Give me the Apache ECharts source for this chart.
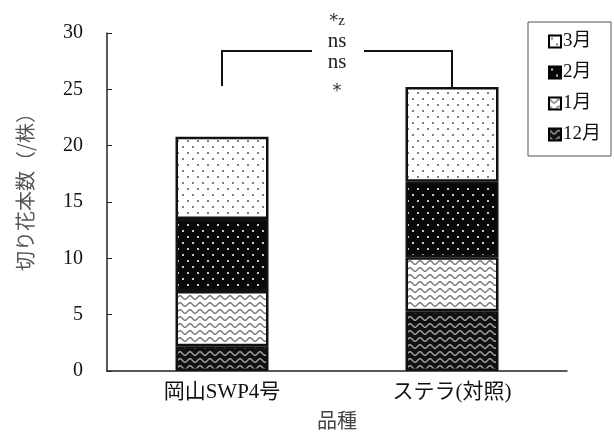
<!DOCTYPE html>
<html>
<head>
<meta charset="utf-8">
<script src="https://cdn.jsdelivr.net/npm/echarts@6/dist/echarts.min.js"></script>
<style>
  html, body { margin: 0; padding: 0; background: #fff; }
  #chart { width: 614px; height: 435px; }
</style>
</head>
<body>
<div id="chart"></div>
<script>
// Cut flowers per plant, by month, for two cultivars
const categories = ['岡山SWP4号', 'ステラ(対照)'];
const months = ['12月', '1月', '2月', '3月'];
const dec = [2.2, 5.3];
const jan = [4.9, 4.8];
const feb = [6.4, 6.7];
const mar = [7.3, 8.4];
const yTicks = { min: 0, max: 30, interval: 5 };
const sigMarks = ['{s|*}{t|z}', '{t|ns}', '{t|ns}', '{s|*}'];

const serif = '"Liberation Serif", "Noto Sans CJK JP", serif';
const sans = '"Noto Sans CJK JP", sans-serif';

// Tiled fills for the stacked segments
function wavePattern(bg, fg) {
  const c = document.createElement('canvas');
  c.width = 10; c.height = 7;
  const g = c.getContext('2d');
  g.fillStyle = bg; g.fillRect(0, 0, 10, 7);
  g.strokeStyle = fg; g.lineWidth = 1.5;
  g.beginPath();
  for (let x = -1; x <= 11; x += 0.5) {
    const y = 3.5 - 1.8 * Math.cos(2 * Math.PI * x / 10);
    if (x === -1) g.moveTo(x, y); else g.lineTo(x, y);
  }
  g.stroke();
  return { image: c, repeat: 'repeat' };
}
function dotPattern(bg, fg) {
  const c = document.createElement('canvas');
  c.width = 10; c.height = 12;
  const g = c.getContext('2d');
  g.fillStyle = bg; g.fillRect(0, 0, 10, 12);
  g.fillStyle = fg;
  g.fillRect(2, 2, 2, 2);
  g.fillRect(7, 8, 2, 2);
  return { image: c, repeat: 'repeat' };
}

const fills = {
  '12月': wavePattern('#111', '#a0a0a0'),
  '1月': wavePattern('#fff', '#7a7a7a'),
  '2月': dotPattern('#080808', '#c8c8c8'),
  '3月': dotPattern('#fff', '#808080')
};
const values = { '12月': dec, '1月': jan, '2月': feb, '3月': mar };

const chart = echarts.init(document.getElementById('chart'));

chart.setOption({
  animation: false,
  backgroundColor: '#fff',
  grid: { left: 107, right: 47, top: 33, bottom: 59 },
  legend: {
    orient: 'vertical',
    left: 528,
    top: 22,
    data: ['3月', '2月', '1月', '12月'],
    itemWidth: 12,
    itemHeight: 12,
    itemGap: 12,
    icon: 'rect',
    borderColor: '#555',
    borderWidth: 1,
    padding: [10, 10, 12, 20],
    itemStyle: { borderColor: '#000', borderWidth: 2 },
    textStyle: { fontFamily: serif, fontSize: 19, color: '#111', padding: [0, 0, 0, -3] }
  },
  xAxis: {
    type: 'category',
    data: categories,
    name: '品種',
    nameLocation: 'middle',
    nameGap: 39,
    nameTextStyle: { fontFamily: sans, fontSize: 20, color: '#444' },
    axisLine: { lineStyle: { color: '#222', width: 1.5 } },
    axisTick: { inside: true, length: 5, lineStyle: { color: '#222' } },
    axisLabel: { fontFamily: serif, fontSize: 21, color: '#111', margin: 11 }
  },
  yAxis: {
    type: 'value',
    min: yTicks.min,
    max: yTicks.max,
    interval: yTicks.interval,
    name: '切り花本数（/株）',
    nameLocation: 'middle',
    nameGap: 72,
    nameTextStyle: { fontFamily: sans, fontSize: 20, color: '#555', padding: [0, 0, 0, 30] },
    axisLine: { show: true, lineStyle: { color: '#222', width: 1.5 } },
    axisTick: { show: true, inside: true, length: 5, lineStyle: { color: '#222' } },
    axisLabel: { fontFamily: serif, fontSize: 20, color: '#111', margin: 24 },
    splitLine: { show: false }
  },
  series: months.map(m => ({
    name: m,
    type: 'bar',
    stack: 'total',
    barWidth: 93,
    data: values[m],
    itemStyle: { color: fills[m], borderColor: '#111', borderWidth: 2.5 }
  }))
});

// Significance bracket and marks above the bars
const at = (ci, v) => chart.convertToPixel({ seriesIndex: 0 }, [ci, v]);
const totals = categories.map((_, i) => dec[i] + jan[i] + feb[i] + mar[i]);
const bracketLevel = 28.4;
const [xL, yTop] = at(0, bracketLevel);
const [xR] = at(1, bracketLevel);
const yLegL = at(0, 25.3)[1];
const yLegR = at(1, totals[1])[1];
const xMid = (xL + xR) / 2;
const lineStyle = { stroke: '#111', lineWidth: 2 };
const markY = [21, 41, 62, 91];
const markSize = [18, 21, 21, 18];

chart.setOption({
  graphic: [
    { type: 'polyline', shape: { points: [[xL, yLegL], [xL, yTop], [xMid - 25, yTop]] }, style: lineStyle, silent: true },
    { type: 'polyline', shape: { points: [[xMid + 27, yTop], [xR, yTop], [xR, yLegR]] }, style: lineStyle, silent: true }
  ].concat(sigMarks.map((t, i) => ({
    type: 'text',
    x: xMid,
    y: markY[i],
    style: {
      text: t,
      align: 'center',
      verticalAlign: 'middle',
      rich: {
        s: { fontFamily: '"DejaVu Sans", sans-serif', fontSize: markSize[i], fill: '#333', verticalAlign: 'middle' },
        t: { fontFamily: serif, fontSize: i === 0 ? 15 : markSize[i], fill: '#222', verticalAlign: 'middle' }
      }
    },
    silent: true
  })))
});
</script>
</body>
</html>
